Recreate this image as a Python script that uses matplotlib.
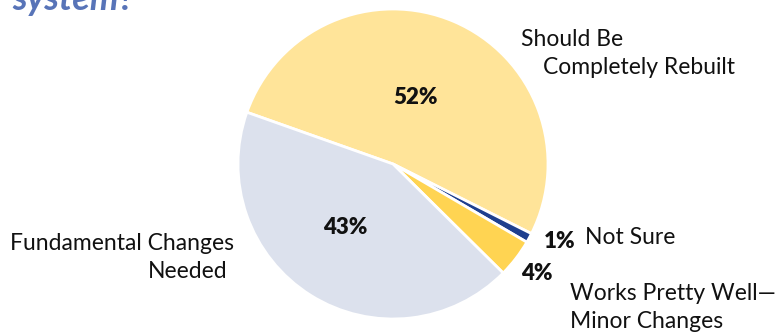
import matplotlib.pyplot as plt

categories = ['Should Be Completely Rebuilt', 'Not Sure',
              'Works Pretty Well—Minor Changes', 'Fundamental Changes Needed']
values = [52, 1, 4, 43]
colors = ['#FFE499', '#1E3F8E', '#FFD452', '#DCE1ED']

W, H = 779, 333
fig = plt.figure(figsize=(W / 100, H / 100), dpi=100)
ax = fig.add_axes([0, 0, 1, 1])

cx, cy, r = 393, 164, 155
ax.pie(values, colors=colors, startangle=160.5, counterclock=False,
       radius=1, center=(0, 0),
       wedgeprops=dict(edgecolor='white', linewidth=2))
ax.set_xlim(-cx / r, (W - cx) / r)
ax.set_ylim(-(H - cy) / r, cy / r)
ax.set_aspect('equal')
ax.axis('off')


def px(x, y):
    return x / W, 1 - y / H


font = 'Lato'
fs = 16.5

# title cut off at top
fig.text(*px(12, 10), 'system?', fontsize=26, fontweight='bold', style='italic',
         color='#5874B8', family=font, va='baseline')

# percentages
pct = [('52%', 415, 98), ('1%', 560, 241), ('4%', 537, 273), ('43%', 345, 228)]
for t, x, y in pct:
    fig.text(*px(x, y), t, fontsize=16, fontweight='heavy', family=font,
             ha='center', va='center', color='#111111')

# category labels
lines = [('Should Be', 521, 40), ('Completely Rebuilt', 543, 68),
         ('Not Sure', 585, 238),
         ('Works Pretty Well—', 570, 294), ('Minor Changes', 570, 322),
         ('Fundamental Changes', 10, 244)]
for t, x, y in lines:
    fig.text(*px(x, y), t, fontsize=fs, family=font, ha='left', va='center',
             color='#111111')
fig.text(*px(228, 272), 'Needed', fontsize=fs, family=font, ha='right',
         va='center', color='#111111')

fig.savefig('out.png', dpi=100)
